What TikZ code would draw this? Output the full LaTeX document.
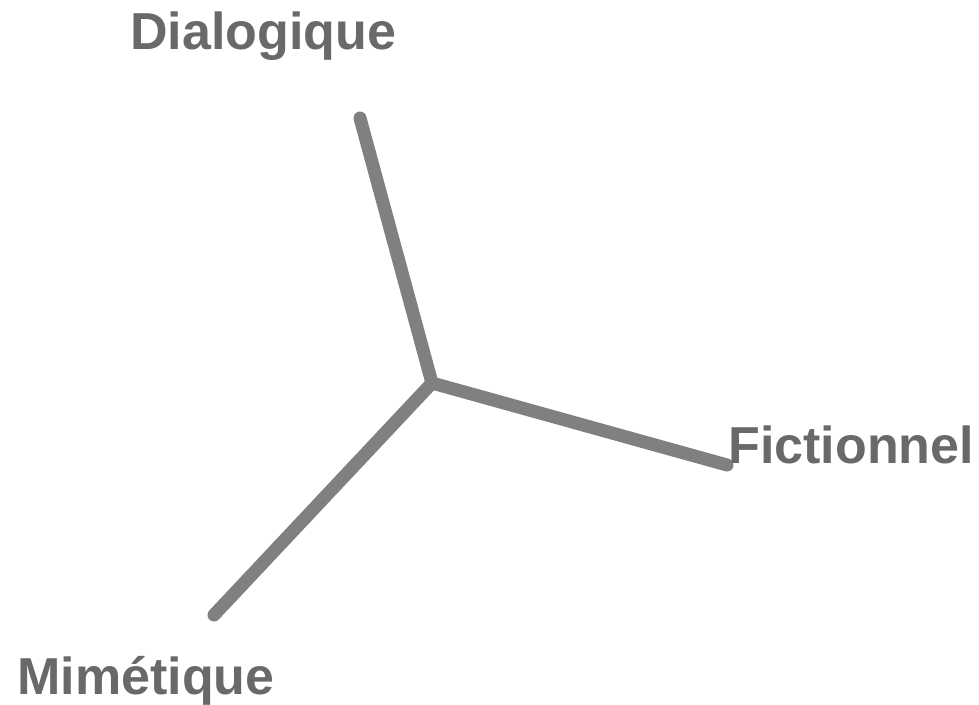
\documentclass[tikz,border=0pt]{standalone}
\usepackage{fontspec}
\setmainfont{Liberation Sans}
\definecolor{linegray}{HTML}{808080}
\definecolor{textgray}{HTML}{696969}
\begin{document}
\begin{tikzpicture}[x=0.5pt,y=-0.5pt,
  arm/.style={draw=linegray, line width=6.5pt, line cap=round, line join=round},
  lbl/.style={anchor=base west, inner sep=0pt, text=textgray, font=\fontsize{26}{31}\selectfont\bfseries}]
\useasboundingbox[fill=white] (0,0) rectangle (979,705);
\coordinate (c) at (432,383);
\coordinate (d) at (360,118);
\coordinate (f) at (727,465);
\coordinate (m) at (214,615);
\draw[arm] (d) -- (c) -- (f);
\draw[arm] (c) -- (m);
\node[lbl] (dl) at (130,50) {Dialogique};
\node[lbl] (fl) at (728,463) {Fictionnel};
\node[lbl] (ml) at (17,694) {Mimétique};
\end{tikzpicture}
\end{document}
